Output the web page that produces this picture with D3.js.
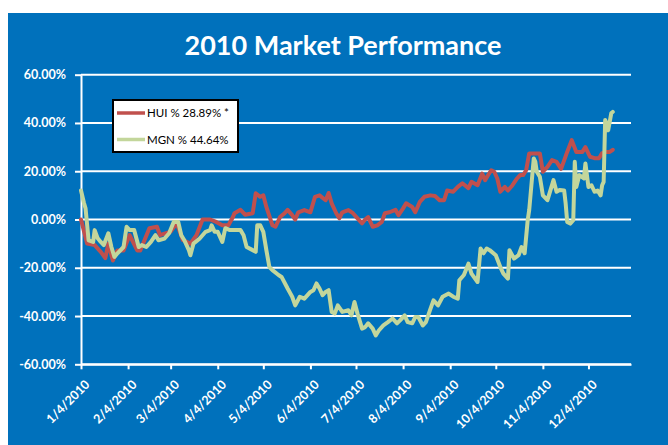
<!DOCTYPE html>
<html>
<head>
<meta charset="utf-8">
<script src="https://cdn.jsdelivr.net/npm/d3@7"></script>
<style>
  body { margin: 0; background: #fff; }
  svg { display: block; font-family: Lato, "Open Sans", sans-serif; }
</style>
</head>
<body>
<div id="canvas"></div>
<script>
// values (% change since 1/4/2010)
const huiDates = ['1/4','1/8','1/13','1/17','1/20','1/22','1/25','1/28','2/1','2/5','2/10','2/12','2/18','2/23','2/25',
  '3/4','3/8','3/12','3/17','3/21','3/25','3/30','4/3','4/7','4/11','4/14','4/15','4/19','4/22','4/27','4/29',
  '5/2','5/4','5/6','5/10','5/12','5/15','5/18','5/20','5/23','5/25','5/27','5/31','6/4','6/7','6/10','6/14',
  '6/16','6/18','6/21','6/23','6/25','6/29','7/2','7/5','7/8','7/10','7/12','7/15','7/18','7/21','7/23','7/26',
  '7/30','8/1','8/4','8/6','8/10','8/12','8/15','8/18','8/22','8/25','8/28','8/31','9/2','9/6','9/9','9/12',
  '9/16','9/18','9/22','9/25','9/27','9/29','10/1','10/3','10/5','10/7','10/10','10/12','10/15','10/18','10/20',
  '10/22','10/24','10/26','10/30','11/2','11/4','11/7','11/10','11/13','11/16','11/20','11/23','11/26','11/30',
  '12/2','12/5','12/8','12/11','12/13','12/16','12/18','12/20'];
const huiValues = [0,-10,-10.6,-13.4,-16,-10,-17,-12.8,-12.8,-6.5,-12.8,-12.8,-3.6,-3,-6.5,
  -5,-1.5,-8.5,-10,-6.5,0,0,-1,-2.4,-2.4,1,2.6,4,2,2.6,10.9,
  9.4,10,5.2,-2.4,-3,1,2.6,4,1.8,0,3,3.9,3,9.4,10,8,
  11,6.7,2.6,0.5,3,3.9,2.6,0.5,-1.6,0,1,-3,-2.4,-1,2.6,3,
  4,1.8,4.6,6.7,5.2,3,7.3,9.4,10,9.7,8,8,12,11.5,13.5,15,
  13,15.6,14.2,19,16.3,18.4,20.4,19.8,17,11.5,13.5,12,14.2,17,18.4,
  18.4,20.4,27.4,27.4,27.4,19.8,21.8,24.6,23.9,21,28,32.9,28,28,
  30,26,25.4,25.4,27.5,28,28,28.9];

const mgnDates = ['1/4','1/6','1/7','1/9','1/12','1/13','1/15','1/17','1/19','1/22','1/24','1/26','1/28','2/1','2/3',
  '2/5','2/8','2/11','2/13','2/16','2/19','2/22','2/24','2/28','3/3','3/6','3/9','3/11','3/13','3/16','3/17',
  '3/19','3/23','3/27','3/30','3/31','4/2','4/4','4/7','4/9','4/12','4/15','4/19','4/21','4/23','4/27','4/29',
  '4/30','5/2','5/4','5/6','5/8','5/10','5/14','5/16','5/20','5/23','5/25','5/28','5/31','6/4','6/6','6/8',
  '6/10','6/12','6/14','6/16','6/18','6/20','6/22','6/25','6/29','7/1','7/3','7/5','7/8','7/10','7/12','7/15',
  '7/17','7/19','7/22','7/25','7/28','7/31','8/2','8/5','8/7','8/10','8/12','8/14','8/17','8/19','8/22','8/24',
  '8/27','8/30','9/3','9/6','9/9','9/10','9/13','9/16','9/18','9/22','9/24','9/26','9/28','9/30','10/4','10/7',
  '10/9','10/12','10/13','10/16','10/19','10/21','10/23','10/25','10/26','10/29','10/30','10/31','11/2','11/4',
  '11/7','11/9','11/11','11/13','11/15','11/18','11/19','11/20','11/22','11/24','11/25','11/26','11/28','12/1',
  '12/2','12/4','12/6','12/8','12/10','12/12','12/13','12/14','12/15','12/16','12/17','12/19','12/20'];
const mgnValues = [12,6.7,4.6,-8.6,-9.3,-4.4,-7.8,-9.3,-10.6,-5.7,-11.4,-15.5,-14,-11.4,-3,
  -4.4,-4.4,-11.4,-10.6,-11.4,-9.3,-6.5,-8.6,-7.9,-5.7,-1,-1,-6.5,-8.6,-12.7,-14.8,
  -10,-8,-5.1,-4.4,-2.4,-5.1,-5.1,-9.3,-3.6,-4.4,-4.4,-4.4,-6.5,-11.4,-12.7,-13.4,
  -2.4,-2.4,-5.1,-12.7,-19.7,-21,-23,-23.8,-28.6,-32,-35.6,-32,-32.8,-30,-29.3,-26.5,
  -28.6,-31.4,-30,-29.3,-38.3,-39,-35.6,-38.3,-37.6,-39.7,-34.2,-39,-45.2,-44.6,-43,-45.2,
  -48,-46,-43.9,-42.5,-41,-43,-41.8,-39.7,-42.5,-43,-40.4,-40.4,-43.9,-42.5,-37,-33.5,
  -35.6,-32,-30.7,-32,-32.8,-25.2,-23,-18.3,-22.4,-25.9,-12,-14,-12,-12.7,-14.8,-19.7,
  -22.4,-24.5,-12.7,-16.2,-14.8,-11.4,-14,-0.3,3.9,25.3,24,19.8,17.7,10,
  8,12.2,16.3,11.5,12.2,12,6.6,-1,-1.7,-0.3,23.9,13.5,18.4,17,
  23.2,13.5,14.2,11.5,12,10,14.2,15.6,41.2,39.8,37,44,44.6];

const yTicks = [-60, -40, -20, 0, 20, 40, 60];
const xTickLabels = ['1/4/2010','2/4/2010','3/4/2010','4/4/2010','5/4/2010','6/4/2010',
  '7/4/2010','8/4/2010','9/4/2010','10/4/2010','11/4/2010','12/4/2010'];
const seriesNames = ['HUI % 28.89% *', 'MGN % 44.64%'];
const seriesColors = ['#C0504D', '#C3D69B'];

const width = 668;
const height = 445;
const margin = { top: 74.7, left: 81, right: 37, bottom: 80.7 };

const parseDate = d3.timeParse('%m/%d/%Y');

const hui = huiDates.map((d, i) => ({ date: parseDate(d + '/2010'), value: huiValues[i] }));
const mgn = mgnDates.map((d, i) => ({ date: parseDate(d + '/2010'), value: mgnValues[i] }));

const svg = d3.select('#canvas').append('svg')
    .attr('width', width)
    .attr('height', height);

// blue chart area
svg.append('rect')
    .attr('x', 8)
    .attr('y', 13)
    .attr('width', width - 8)
    .attr('height', height - 13)
    .attr('fill', '#0071BC');

svg.append('text')
    .attr('x', 343)
    .attr('y', 55)
    .attr('text-anchor', 'middle')
    .attr('fill', '#fff')
    .attr('font-size', 27)
    .attr('font-weight', 'bold')
    .text('2010 Market Performance');

const xScale = d3.scaleTime()
    .domain([parseDate('1/4/2010'), parseDate('1/1/2011')])
    .range([margin.left, width - margin.right]);

const yScale = d3.scaleLinear()
    .domain([-60, 60])
    .range([height - margin.bottom, margin.top]);

// gridlines
svg.append('g')
    .attr('id', 'grid')
    .selectAll('line')
    .data(yTicks)
    .join('line')
    .attr('x1', margin.left)
    .attr('x2', width - margin.right)
    .attr('y1', d => yScale(d))
    .attr('y2', d => yScale(d))
    .attr('stroke', '#fff')
    .attr('stroke-width', 2);

const yAxis = svg.append('g')
    .attr('id', 'y-axis')
    .attr('transform', `translate(${margin.left},0)`)
    .call(d3.axisLeft(yScale)
        .tickValues(yTicks)
        .tickSize(6)
        .tickSizeOuter(0)
        .tickPadding(9)
        .tickFormat(d => d.toFixed(2) + '%'));

const xAxis = svg.append('g')
    .attr('id', 'x-axis')
    .attr('transform', `translate(0,${height - margin.bottom})`)
    .call(d3.axisBottom(xScale)
        .tickValues(xTickLabels.map(parseDate))
        .tickSize(5)
        .tickSizeOuter(0)
        .tickFormat((d, i) => xTickLabels[i]));

[yAxis, xAxis].forEach(ax => {
    ax.select('.domain').attr('stroke', '#fff').attr('stroke-width', 2);
    ax.selectAll('.tick line').attr('stroke', '#fff').attr('stroke-width', 2);
    ax.selectAll('.tick text')
        .attr('fill', '#fff')
        .attr('font-size', 12.5)
        .attr('font-weight', 'bold')
        .attr('font-family', 'Lato, "Open Sans", sans-serif');
});

xAxis.selectAll('.tick text')
    .attr('y', 0)
    .attr('dy', 0)
    .attr('text-anchor', 'end')
    .attr('transform', 'translate(9,21) rotate(-45)');

const line = d3.line()
    .x(d => xScale(d.date))
    .y(d => yScale(d.value));

const dataRegion = svg.append('g').attr('id', 'data');

[hui, mgn].forEach((s, i) => {
    dataRegion.append('path')
        .datum(s)
        .attr('d', line)
        .attr('fill', 'none')
        .attr('stroke', seriesColors[i])
        .attr('stroke-width', 4)
        .attr('stroke-linejoin', 'round')
        .attr('stroke-linecap', 'round');
});

// legend
const legend = svg.append('g').attr('id', 'legend');
legend.append('rect')
    .attr('x', 113)
    .attr('y', 100)
    .attr('width', 125)
    .attr('height', 52)
    .attr('fill', '#fff')
    .attr('stroke', '#000')
    .attr('stroke-width', 2);

const entries = legend.selectAll('g.entry')
    .data(seriesNames)
    .join('g')
    .attr('class', 'entry')
    .attr('transform', (d, i) => `translate(117,${113 + i * 26.5})`);

entries.append('line')
    .attr('x1', 0)
    .attr('x2', 28)
    .attr('stroke', (d, i) => seriesColors[i])
    .attr('stroke-width', 3.5);

entries.append('text')
    .attr('x', 30)
    .attr('dy', '0.35em')
    .attr('font-size', 11.5)
    .attr('fill', '#000')
    .text(d => d);
</script>
</body>
</html>
